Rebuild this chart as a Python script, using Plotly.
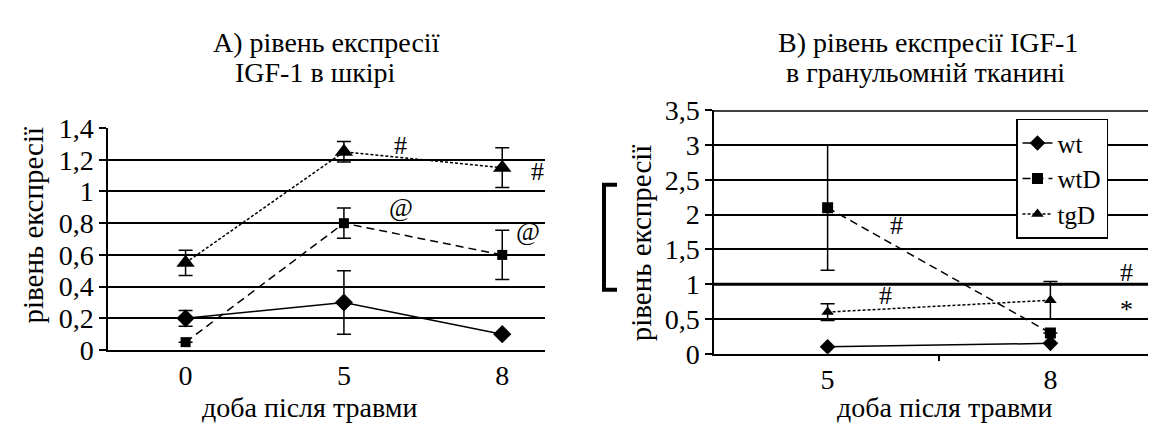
import plotly.graph_objects as go

FONT = "Liberation Serif"

# ---- data ----
days_a = ["0", "5", "8"]
days_b = ["5", "8"]

a_wt = [0.2, 0.3, 0.1]
a_wt_err = [0.05, 0.2, 0.0]
a_wtD = [0.05, 0.8, 0.6]
a_wtD_err = [0.0, 0.095, 0.155]
a_tgD = [0.55, 1.25, 1.15]
a_tgD_err = [0.08, 0.065, 0.125]

b_wt = [0.1, 0.15]
b_wt_err = [0.0, 0.0]
b_wtD = [2.1, 0.3]
b_wtD_err = [0.9, 0.0]
b_tgD = [0.6, 0.77]
b_tgD_err = [0.12, 0.27]

ticks_a = [0, 0.2, 0.4, 0.6, 0.8, 1.0, 1.2, 1.4]
ticks_a_txt = ["0", "0,2", "0,4", "0,6", "0,8", "1", "1,2", "1,4"]
ticks_b = [0, 0.5, 1, 1.5, 2, 2.5, 3, 3.5]
ticks_b_txt = ["0", "0,5", "1", "1,5", "2", "2,5", "3", "3,5"]

xa = list(range(len(days_a)))
xb = list(range(len(days_b)))

fig = go.Figure()

def err(v, w=7):
    return dict(type="data", array=v, visible=True, color="black", thickness=1.5, width=w)

styles = {
    "wt": dict(line=dict(color="black", width=1.5, dash="solid"), symbol="diamond"),
    "wtD": dict(line=dict(color="black", width=1.5, dash="8px,5px"), symbol="square"),
    "tgD": dict(line=dict(color="black", width=1.5, dash="3px,2px"), symbol="triangle-up"),
}

# Panel A
for name, ys, es, size in [("wt", a_wt, a_wt_err, 14), ("wtD", a_wtD, a_wtD_err, 10), ("tgD", a_tgD, a_tgD_err, 16)]:
    fig.add_trace(go.Scatter(
        x=xa, y=ys, mode="lines+markers", name=name, showlegend=False,
        line=styles[name]["line"],
        marker=dict(symbol=styles[name]["symbol"], size=size, color="black"),
        error_y=err(es), xaxis="x", yaxis="y"))

# Panel B
for name, ys, es, size in [("wt", b_wt, b_wt_err, 12), ("wtD", b_wtD, b_wtD_err, 11), ("tgD", b_tgD, b_tgD_err, 11)]:
    fig.add_trace(go.Scatter(
        x=xb, y=ys, mode="lines+markers", name=name, showlegend=True,
        line=styles[name]["line"],
        marker=dict(symbol=styles[name]["symbol"], size=size, color="black"),
        error_y=err(es), xaxis="x2", yaxis="y2"))

axis_common = dict(showline=True, linecolor="black", linewidth=1.5, zeroline=False)
TICKFONT = dict(family=FONT, size=28, color="black")

fig.update_layout(
    width=1156, height=438,
    margin=dict(l=0, r=0, t=0, b=0),
    paper_bgcolor="white", plot_bgcolor="white",
    font=dict(family=FONT, color="black"),
    xaxis=dict(domain=[100/1156, 537/1156], range=[-0.49, 2.27], tickvals=xa, ticktext=days_a,
               ticks="", showgrid=False, anchor="y", tickfont=TICKFONT, **axis_common),
    yaxis=dict(domain=[1-352/438, 1-113/438], range=[0, 1.4], tickvals=ticks_a, ticktext=ticks_a_txt,
               ticks="outside", ticklen=7, tickwidth=1.5, tickcolor="black", tickfont=TICKFONT,
               showgrid=True, gridcolor="black", gridwidth=1.5, anchor="x", **axis_common),
    xaxis2=dict(domain=[706/1156, 1.0], range=[-0.51, 1.51], tickvals=xb, ticktext=days_b,
                ticks="", showgrid=False, anchor="y2",
                minor=dict(tickvals=[0.5], ticks="outside", ticklen=5, tickwidth=1.5, tickcolor="black"),
                tickfont=TICKFONT, **axis_common),
    yaxis2=dict(domain=[1-356/438, 1-94/438], range=[0, 3.5], tickvals=ticks_b, ticktext=ticks_b_txt,
                ticks="outside", ticklen=7, tickwidth=1.5, tickcolor="black", tickfont=TICKFONT,
                showgrid=True, gridcolor="black", gridwidth=1.5, anchor="x2", **axis_common),
    legend=dict(x=1008/1156, y=1-103/438, xanchor="left", yanchor="top",
                bgcolor="white", bordercolor="black", borderwidth=1.5,
                font=dict(family=FONT, size=25, color="black"),
                tracegroupgap=0, itemwidth=30),
)

# thicker lines in panel B at 1 and 3.5
for yv in [1, 3.5]:
    fig.add_shape(type="line", xref="x2 domain", yref="y2", x0=0, x1=1, y0=yv, y1=yv,
                  line=dict(color="black", width=3))

# bracket left of panel B
fig.add_shape(type="path", xref="paper", yref="paper",
              path=f"M {609/1156} {1-174/438} L {596/1156} {1-174/438} L {596/1156} {1-287/438} L {609/1156} {1-287/438}",
              line=dict(color="black", width=4))

def ann(text, x, y, xref="paper", yref="paper", size=28, angle=0):
    fig.add_annotation(text=text, x=x, y=y, xref=xref, yref=yref, showarrow=False,
                       font=dict(family=FONT, size=size, color="black"), textangle=angle,
                       xanchor="center", yanchor="middle")

# titles
ann("A) рівень експресії", 318/1156, 1-21/438)
ann("IGF-1 в шкірі", 308/1156, 1-53/438)
ann("B) рівень експресії IGF-1", 920/1156, 1-21/438)
ann("в гранульомній тканині", 917/1156, 1-53/438)
# axis titles
ann("доба після травми", 301/1156, 1-414/438)
ann("доба після травми", 936/1156, 1-414/438)
ann("рівень експресії", 25/1156, 1-218/438, angle=-90, size=29)
ann("рівень експресії", 633/1156, 1-237/438, angle=-90, size=29)

# significance marks
ann("#", 1.36, 1.29, "x", "y", size=26)
ann("#", 2.22, 1.125, "x", "y", size=26)
ann("@", 1.36, 0.9, "x", "y", size=26)
ann("@", 2.16, 0.75, "x", "y", size=26)
ann("#", 0.31, 1.84, "x2", "y2", size=26)
ann("#", 0.26, 0.84, "x2", "y2", size=26)
ann("#", 1.34, 1.17, "x2", "y2", size=26)
ann("*", 1.34, 0.63, "x2", "y2", size=26)

fig.write_html("out.html")
